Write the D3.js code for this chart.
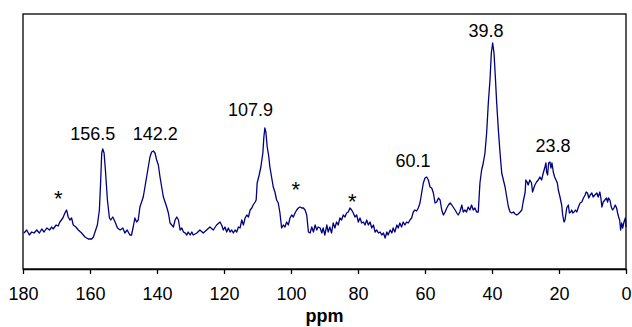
<!DOCTYPE html>
<html>
<head>
<meta charset="utf-8">
<script src="https://cdn.jsdelivr.net/npm/d3@7"></script>
<style>
  body { margin: 0; background: #fff; }
  text { font-family: "Liberation Sans", Arial, sans-serif; fill: #000; }
  .axis path, .axis line { stroke: #000; stroke-width: 1.3; }
  .axis text { font-size: 18px; }
</style>
</head>
<body>
<script>
// #### DATA ####
// chemical shift (ppm) and intensity (arb. units)
var ppm = [179.7,178.9,178.1,177.4,176.7,175.9,175.1,174.4,173.7,172.9,172.1,171.4,171.0,170.1,169.5,169.0,168.1,167.5,167.0,166.5,
  166.0,165.5,165.0,164.2,163.5,162.5,161.5,160.5,159.5,159.0,158.5,157.8,157.2,156.8,156.5,156.2,155.8,155.4,154.8,154.2,
  153.8,153.2,152.5,151.8,151.0,150.2,149.6,148.9,148.1,147.6,147.1,146.6,146.1,145.6,145.1,144.6,144.1,143.6,143.1,142.6,
  142.1,141.6,141.1,140.6,140.1,139.6,139.1,138.6,138.1,137.6,137.1,136.6,136.1,135.6,135.1,134.6,134.1,133.6,133.1,132.6,
  132.1,131.6,131.1,130.7,130.1,129.6,129.2,128.1,127.2,126.2,125.2,124.2,123.2,122.2,121.2,120.7,120.2,119.7,119.2,118.7,
  118.2,117.7,117.2,116.7,116.2,115.7,115.2,114.7,114.2,113.7,113.2,112.7,112.2,111.7,111.3,110.7,110.4,110.1,109.5,109.0,
  108.4,108.1,107.8,107.5,107.1,106.7,106.3,105.8,105.3,104.8,104.3,103.8,103.3,102.8,102.3,101.8,101.3,100.8,100.3,99.8,
  99.3,98.8,98.3,97.8,97.3,96.8,96.3,95.8,95.3,94.8,94.3,93.8,93.3,92.8,92.3,91.9,91.3,90.8,90.4,89.9,
  89.3,88.9,88.4,87.9,87.4,86.9,86.4,85.9,85.4,84.9,84.4,83.9,83.4,82.9,82.4,81.9,81.4,80.9,80.4,79.9,
  79.4,78.9,78.4,77.9,77.4,76.9,76.4,75.9,75.4,74.9,74.4,73.9,73.4,72.9,72.4,71.9,71.4,71.0,70.4,69.9,
  69.5,69.0,68.4,68.0,67.5,67.0,66.5,66.0,65.5,65.0,64.5,64.0,63.5,63.0,62.5,62.0,61.5,61.0,60.5,60.0,
  59.5,59.0,58.5,58.0,57.5,57.0,56.5,56.0,55.5,55.0,54.5,54.0,53.5,53.0,52.5,52.0,51.6,51.0,50.5,50.1,
  49.6,49.0,48.6,48.1,47.6,47.1,46.6,46.1,45.6,45.1,44.6,44.1,43.6,43.1,42.6,42.1,41.6,41.1,40.6,40.2,
  39.8,39.4,39.0,38.6,38.1,37.6,37.1,36.6,36.1,35.6,35.1,34.6,34.1,33.6,33.1,32.6,32.2,31.6,31.1,30.7,
  30.1,29.9,29.5,29.2,28.7,28.2,27.9,27.5,27.2,26.7,26.2,25.7,25.2,24.7,24.2,23.9,23.7,23.4,23.1,22.7,
  22.4,22.1,21.7,21.3,20.9,20.5,20.2,19.7,19.2,18.9,18.5,18.2,17.9,17.7,17.2,16.9,16.5,16.2,15.9,15.5,
  15.1,14.7,14.2,13.7,13.2,12.7,12.2,11.9,11.5,11.1,10.7,10.2,9.8,9.3,8.7,8.3,7.8,7.5,7.2,6.8,
  6.3,5.8,5.5,5.2,4.8,4.4,4.0,3.6,3.2,2.8,2.5,2.2,1.9,1.6,1.3,1.0,0.6,0.2,0.0];

var intensity = [36,39,34,37,36,39,36,40,37,41,39,42,40,44,43,47,51,56,59,52,
  49,51,44,42,39,36,32,30,30,32,37,44,59,89,116,120,116,99,69,51,
  49,52,47,41,39,41,36,39,34,34,42,51,47,49,62,67,72,82,92,102,
  112,117,118,116,109,104,92,82,72,67,62,56,46,44,42,49,52,49,39,41,
  37,36,34,37,34,37,34,36,39,36,39,42,39,44,47,44,39,42,37,41,
  37,39,36,39,37,42,41,49,44,51,54,52,59,61,64,67,69,86,94,102,
  116,132,141,137,122,114,102,92,82,77,69,66,56,41,44,42,47,44,51,54,
  52,56,59,61,62,61,61,59,54,37,36,42,37,44,39,42,41,36,41,34,
  44,37,42,36,46,41,47,44,51,49,54,52,56,57,61,59,56,52,54,47,
  51,46,47,44,49,44,47,41,44,37,39,36,37,34,36,31,37,34,39,36,
  41,37,44,41,46,42,47,44,47,46,49,51,57,59,58,61,66,76,86,91,
  92,89,82,81,76,66,67,71,69,59,54,57,61,64,66,64,62,59,56,54,
  57,64,57,59,57,62,59,64,59,61,57,57,86,99,106,116,136,166,189,216,
  226,216,192,166,139,116,96,89,82,72,62,57,56,57,55,54,55,57,59,67,
  77,89,87,84,89,86,77,81,84,87,89,92,89,96,102,106,97,94,106,107,
  101,106,97,92,89,86,79,72,64,54,47,49,56,61,64,56,57,59,56,57,
  59,57,62,66,67,71,74,77,76,71,74,76,72,74,76,72,77,71,62,67,
  69,71,67,71,69,62,59,61,64,61,56,52,49,39,46,41,47,51,42];

var xTicks = [180, 160, 140, 120, 100, 80, 60, 40, 20, 0];

// peak labels, anchored at the text baseline
var peakText = ["156.5", "142.2", "107.9", "60.1", "39.8", "23.8"];
var peakPpm = [159.2, 140.5, 112.1, 63.6, 41.8, 21.8];
var peakInt = [129, 129, 153, 102, 232, 117];

// spinning sideband markers (centre of the asterisk)
var starPpm = [169.5, 98.6, 81.7];
var starInt = [76, 85, 73];

var xLabel = "ppm";

// #### layout ####
var width_outer = 632;
var height_outer = 327;
var margin = {top: 14, right: 6, bottom: 58, left: 23};
var width = width_outer - margin.left - margin.right;
var height = height_outer - margin.top - margin.bottom;

var data = ppm.map(function(v, i) { return {x: v, y: intensity[i]}; });

var svg = d3.select("body").append("svg")
  .attr("width", width_outer)
  .attr("height", height_outer)
  .append("g")
    .attr("transform", "translate(" + margin.left + "," + margin.top + ")");

var x = d3.scaleLinear()
  .domain([180, 0])
  .range([0, width]);

var y = d3.scaleLinear()
  .domain([0, 255])
  .range([height, 0]);

// frame
svg.append("rect")
  .attr("width", width)
  .attr("height", height)
  .style("fill", "none")
  .style("stroke", "#000")
  .style("stroke-width", 1.3);

// axis
var xAxis = d3.axisBottom(x)
  .tickValues(xTicks)
  .tickFormat(d3.format("d"))
  .tickSizeInner(5)
  .tickSizeOuter(0)
  .tickPadding(13);

svg.append("g")
  .attr("class", "x axis")
  .attr("transform", "translate(0," + height + ")")
  .call(xAxis);

svg.append("text")
  .attr("x", width / 2)
  .attr("y", height + 53)
  .attr("text-anchor", "middle")
  .style("font-size", "18px")
  .style("font-weight", "bold")
  .text(xLabel);

// spectrum
var line = d3.line()
  .x(function(d) { return x(d.x); })
  .y(function(d) { return y(d.y); });

svg.append("path")
  .datum(data)
  .attr("class", "line")
  .attr("d", line)
  .style("fill", "none")
  .style("stroke", "#000080")
  .style("stroke-width", 1.3)
  .style("stroke-linejoin", "round");

// peak labels
svg.selectAll(".peak")
  .data(peakText)
  .enter().append("text")
  .attr("class", "peak")
  .attr("x", function(d, i) { return x(peakPpm[i]); })
  .attr("y", function(d, i) { return y(peakInt[i]); })
  .attr("text-anchor", "middle")
  .style("font-size", "18px")
  .text(function(d) { return d; });

// asterisks
svg.selectAll(".star")
  .data(starPpm)
  .enter().append("text")
  .attr("class", "star")
  .attr("x", function(d) { return x(d); })
  .attr("y", function(d, i) { return y(starInt[i]) + 12.5; })
  .attr("text-anchor", "middle")
  .style("font-size", "22px")
  .text("*");
</script>
</body>
</html>
